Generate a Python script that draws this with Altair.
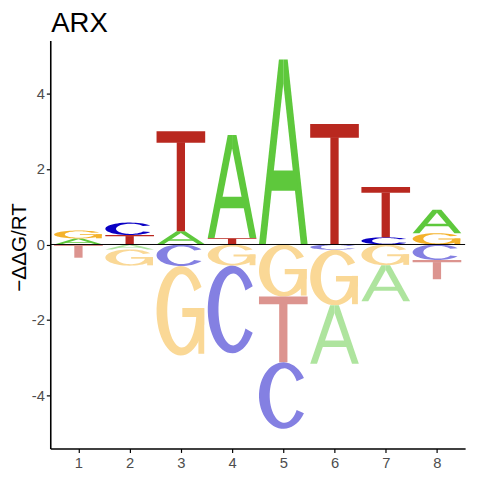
import altair as alt
import numpy as np
import pandas as pd

# ---- data (-ddG/RT per position and base) ----
positions = [1, 2, 3, 4, 5, 6, 7, 8]
val_A = [0.16, -0.13, 0.35, 2.73, 4.90, -1.55, -0.95, 0.62]
val_C = [0.00, 0.33, -0.57, -2.32, -1.76, -0.14, 0.19, -0.41]
val_G = [0.21, -0.43, -2.37, -0.56, -1.38, -1.47, -0.55, 0.30]
val_T = [-0.35, 0.25, 2.65, 0.17, -1.74, 3.19, 1.33, -0.51]
y_ticks = [-4, -2, 0, 2, 4]
title_text = ["ARX"]

base_colors = {"A": "#5EC83C", "C": "#0A00C4", "G": "#F4B22C", "T": "#B9281F"}


def lighten(hexc, a=0.5):
    r, g, b = int(hexc[1:3], 16), int(hexc[3:5], 16), int(hexc[5:7], 16)
    r, g, b = [round(255 - (255 - c) * a) for c in (r, g, b)]
    return "#%02X%02X%02X" % (r, g, b)


# ---- glyph outlines in a unit box (shape definitions) ----
def ell(cx, cy, rx, ry, a0, a1, n=48):
    t = np.radians(np.linspace(a0, a1, n))
    return list(zip(cx + rx * np.cos(t), cy + ry * np.sin(t)))


def glyph(letter):
    if letter == "A":
        return [
            [(0, 0), (0.14, 0), (0.5, 0.87), (0.5, 1), (0.41, 1)],
            [(1, 0), (0.86, 0), (0.5, 0.87), (0.5, 1), (0.59, 1)],
            [(0.2, 0.29), (0.8, 0.29), (0.76, 0.40), (0.24, 0.40)],
        ]
    if letter == "T":
        return [
            [(0, 0.885), (1, 0.885), (1, 1), (0, 1)],
            [(0.415, 0), (0.585, 0), (0.585, 0.89), (0.415, 0.89)],
        ]
    if letter == "C":
        outer = ell(0.5, 0.5, 0.5, 0.5, 32, 328)
        inner = ell(0.52, 0.5, 0.30, 0.41, 328, 32)
        return [outer + inner]
    if letter == "G":
        outer = ell(0.5, 0.5, 0.5, 0.5, 32, 342)
        inner = ell(0.52, 0.5, 0.30, 0.41, 350, 32)
        poly = outer + [(0.98, 0.34), (0.98, 0.53), (0.53, 0.53), (0.53, 0.43), (0.81, 0.43)] + inner
        stem = [(0.86, 0.02), (0.98, 0.02), (0.98, 0.53), (0.86, 0.53)]
        return [poly, stem]
    return []


W = 0.95
values = {"A": val_A, "C": val_C, "G": val_G, "T": val_T}
rows = []
for j, p in enumerate(positions):
    col = [(L, values[L][j]) for L in "ACGT" if values[L][j] != 0]
    pos = sorted([c for c in col if c[1] > 0], key=lambda c: c[1])
    neg = sorted([c for c in col if c[1] < 0], key=lambda c: -c[1])
    stacks = []
    cum = 0.0
    for L, v in pos:
        stacks.append((L, cum, cum + v, base_colors[L]))
        cum += v
    cum = 0.0
    for L, v in neg:
        stacks.append((L, cum + v, cum, lighten(base_colors[L])))
        cum += v
    for L, y0, y1, colr in stacks:
        for k, poly in enumerate(glyph(L)):
            pid = f"{p}-{L}-{k}"
            for i, (gx, gy) in enumerate(poly):
                rows.append({
                    "pid": pid, "i": i,
                    "x": p - W / 2 + gx * W,
                    "y": y0 + gy * (y1 - y0),
                    "fill": colr,
                })

df = pd.DataFrame(rows)

xscale = alt.Scale(domain=[0.45, 8.55], nice=False, zero=False)
yscale = alt.Scale(domain=[-5.4, 5.4], nice=False, zero=False)

letters = alt.Chart(df).mark_line(
    filled=True, stroke="transparent", strokeWidth=0, strokeOpacity=0
).encode(
    x=alt.X("x:Q", scale=xscale,
            axis=alt.Axis(values=positions, format="d", title=None,
                          labelPadding=3)),
    y=alt.Y("y:Q", scale=yscale,
            axis=alt.Axis(values=y_ticks, format="d", title="−ΔΔG/RT",
                          labelExpr="replace(datum.label, '\u2212', '-')",
                          titleX=-25, titleY=210, titleBaseline="alphabetic",
                          titleFontSize=21, titleColor="black",
                          titleFontWeight="normal", titleFont="Liberation Sans")),
    fill=alt.Fill("fill:N", scale=None),
    detail="pid:N",
    order=alt.Order("i:Q"),
)

zero = alt.Chart(pd.DataFrame({"y": [0]})).mark_rule(color="black", strokeWidth=1).encode(
    y=alt.Y("y:Q", scale=yscale)
)

title = alt.Chart(pd.DataFrame({"t": title_text})).mark_text(
    align="left", baseline="alphabetic", fontSize=28, font="Liberation Sans",
    color="black",
).encode(x=alt.value(1), y=alt.value(-9), text="t:N")

chart = alt.layer(letters, zero, title).properties(
    width=422, height=415,
    autosize=alt.AutoSizeParams(type="none"),
    padding={"left": 43, "top": 29, "right": 7, "bottom": 28},
).configure_view(stroke=None).configure_axis(
    grid=False, domainColor="black", domainWidth=1.6, tickColor="black",
    tickSize=4, tickWidth=1.2, labelColor="#4D4D4D", labelFontSize=15,
    labelFont="Liberation Sans",
)

chart.save("out.html", embed_options={"renderer": "svg", "actions": False})
